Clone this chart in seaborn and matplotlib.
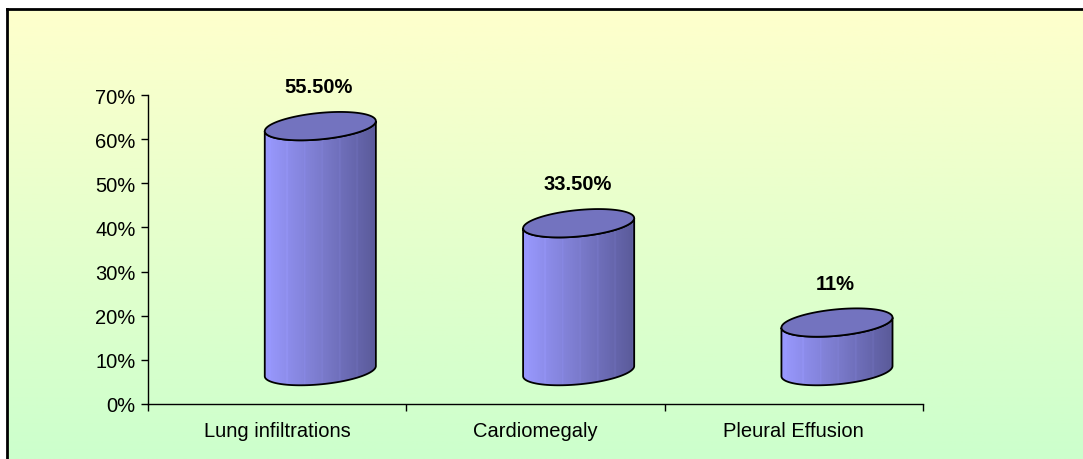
import numpy as np
import pandas as pd
import matplotlib
matplotlib.use('Agg')
import matplotlib.pyplot as plt
from matplotlib.patches import Polygon
from matplotlib.ticker import PercentFormatter, MultipleLocator
import seaborn as sns

categories = ['Lung infiltrations', 'Cardiomegaly', 'Pleural Effusion']
values = [55.5, 33.5, 11.0]
value_labels = ['55.50%', '33.50%', '11%']

sns.set_style('white')
plt.rcParams['font.family'] = ['Liberation Sans', 'DejaVu Sans']
plt.rcParams['text.color'] = 'black'
plt.rcParams['xtick.color'] = 'black'
plt.rcParams['ytick.color'] = 'black'
plt.rcParams['axes.labelcolor'] = 'black'

df = pd.DataFrame({'category': categories, 'value': values})

fig = plt.figure(figsize=(10.83, 4.60), dpi=100)
fig.patch.set_facecolor('white')

# gradient background (chart area), border on left / top
bg = fig.add_axes([7 / 1083, 0, 1 - 7 / 1083, 450 / 460])
grad = np.linspace(0, 1, 256)[:, None]
top_c = np.array([255, 255, 204]) / 255
bot_c = np.array([204, 255, 204]) / 255
img = top_c * (1 - grad[..., None]) + bot_c * grad[..., None]
bg.imshow(np.repeat(img, 2, axis=1), aspect='auto', extent=[0, 1, 0, 1])
bg.set_xlim(0, 1)
bg.set_ylim(0, 1)
bg.set_xticks([])
bg.set_yticks([])
for s in ['right', 'bottom']:
    bg.spines[s].set_visible(False)
for s in ['left', 'top']:
    bg.spines[s].set_linewidth(2)
    bg.spines[s].set_color('black')

ax = fig.add_axes([148 / 1083, 55 / 460, (923 - 148) / 1083, (405 - 96) / 460])
ax.set_facecolor('none')
sns.barplot(data=df, x='category', y='value', ax=ax, width=0.43)

# 3D look: cylinders shifted right / up
xoff, base, b, tilt = 0.167, 7.45, 3.0, 1.15
body_cmap = matplotlib.colors.LinearSegmentedColormap.from_list(
    'cyl', ['#9999ff', '#8a8ae6', '#7b7bcc', '#6a6ab3', '#5a5a99'])
t = np.linspace(np.pi, 2 * np.pi, 60)
tt = np.linspace(0, 2 * np.pi, 120)
for i, p in enumerate(list(ax.patches)):
    p.set_visible(False)
    cx = p.get_x() + p.get_width() / 2 + xoff
    a = p.get_width() / 2
    h = p.get_height()
    ytop = base + h
    bx = cx + a * np.cos(t)
    bot_y = base + b * np.sin(t) + tilt * np.cos(t)
    top_y = ytop + b * np.sin(t) + tilt * np.cos(t)
    body = np.vstack([np.column_stack([bx, bot_y]),
                      np.column_stack([bx[::-1], top_y[::-1]])])
    poly = Polygon(body, closed=True, facecolor='none', edgecolor='black',
                   lw=1.3, zorder=3)
    ax.add_patch(poly)
    shade = np.linspace(0, 1, 200)[None, :]
    stripes = (np.sin(np.linspace(0, 40, 200)) > 0.97) * -0.08
    im = ax.imshow(shade + stripes, cmap=body_cmap, vmin=0, vmax=1,
                   aspect='auto', extent=[cx - a, cx + a, base - b - 2, ytop + b + 2],
                   zorder=2, clip_on=True)
    im.set_clip_path(poly)
    cap = np.column_stack([cx + a * np.cos(tt),
                           ytop + b * np.sin(tt) + tilt * np.cos(tt)])
    ax.add_patch(Polygon(cap, closed=True, facecolor='#7373bf',
                         edgecolor='black', lw=1.3, zorder=4))
    ax.text(cx - 0.005, h + 16.4, value_labels[i], ha='center', va='center',
            fontsize=14.5, fontweight='bold', color='black', clip_on=False)

ax.set_xlim(-0.5, 2.5)
ax.set_ylim(0, 70)
ax.yaxis.set_major_locator(MultipleLocator(10))
ax.yaxis.set_major_formatter(PercentFormatter(decimals=0))
ax.set_xticks([0, 1, 2])
ax.set_xticklabels(categories)
ax.set_xticks([-0.5, 0.5, 1.5, 2.5], minor=True)
ax.tick_params(axis='x', which='major', length=0, pad=12, labelsize=14.5,
               labelcolor='black')
ax.tick_params(axis='x', which='minor', length=5, width=1, direction='out',
               bottom=True, color='black')
ax.tick_params(axis='y', length=5, width=1, direction='out', left=True,
               pad=4, labelsize=14.5, color='black', labelcolor='black')
ax.set_xlabel('')
ax.set_ylabel('')
sns.despine(ax=ax)
for s in ['left', 'bottom']:
    ax.spines[s].set_color('black')
    ax.spines[s].set_linewidth(1)

fig.savefig('out.png', dpi=100)
